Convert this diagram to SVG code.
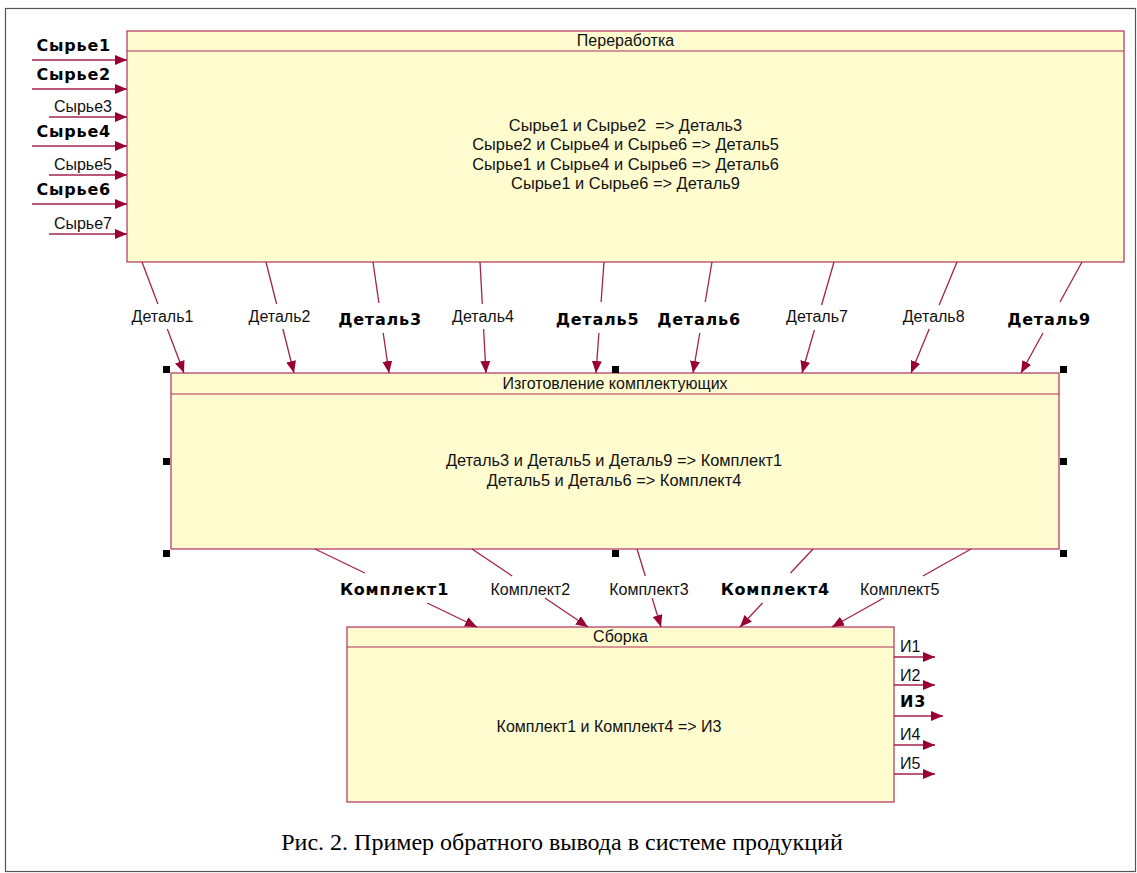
<svg xmlns="http://www.w3.org/2000/svg" width="1137" height="873" viewBox="0 0 1137 873">
<style>
.box{fill:#FFFCD0;stroke:#B0305A;stroke-width:1.2}
.sep{stroke:#B0305A;stroke-width:1.2}
.ln{stroke:#A3224F;stroke-width:1.3;fill:none}
.t{font-family:"Liberation Sans",Arial,sans-serif;font-size:16px;fill:#111}
.tb{font-family:"Liberation Sans",Arial,sans-serif;font-size:16.4px;fill:#111}
.b{font-family:"DejaVu Sans",sans-serif;font-weight:bold;font-size:16px;letter-spacing:0.8px;fill:#000}
.m{text-anchor:middle}
.e{text-anchor:end}
.h{fill:#000}
.cap{font-family:"Liberation Serif","Times New Roman",serif;font-size:24px;fill:#000}
</style>
<defs>
<marker id="ah" markerUnits="userSpaceOnUse" markerWidth="12" markerHeight="10" refX="12" refY="5" orient="auto">
<path d="M0,0 L12,5 L0,10 z" fill="#990033"/>
</marker>
</defs>
<rect x="0" y="0" width="1137" height="873" fill="#fff"/>
<rect x="5.5" y="8.5" width="1130" height="863" fill="none" stroke="#555" stroke-width="1.2"/>

<g id="node-pererabotka">
<rect class="box" x="127" y="31" width="997" height="231"/>
<line class="sep" x1="127" y1="51" x2="1124" y2="51"/>
<text class="t m" x="625.5" y="46">Переработка</text>
<text class="tb m" x="625.5" y="131" xml:space="preserve">Сырье1 и Сырье2  =&gt; Деталь3</text>
<text class="tb m" x="625.5" y="150">Сырье2 и Сырье4 и Сырье6 =&gt; Деталь5</text>
<text class="tb m" x="625.5" y="170">Сырье1 и Сырье4 и Сырье6 =&gt; Деталь6</text>
<text class="tb m" x="625.5" y="189">Сырье1 и Сырье6 =&gt; Деталь9</text>
</g>

<g id="node-izgotovlenie">
<rect class="box" x="171" y="373" width="888" height="176"/>
<line class="sep" x1="171" y1="394" x2="1059" y2="394"/>
<text class="t m" x="615" y="389">Изготовление комплектующих</text>
<text class="tb m" x="614" y="466">Деталь3 и Деталь5 и Деталь9 =&gt; Комплект1</text>
<text class="tb m" x="614" y="486">Деталь5 и Деталь6 =&gt; Комплект4</text>
<rect class="h" x="163" y="366" width="7" height="7"/>
<rect class="h" x="612" y="366" width="7" height="7"/>
<rect class="h" x="1060" y="366" width="7" height="7"/>
<rect class="h" x="163" y="458" width="7" height="7"/>
<rect class="h" x="1060" y="458" width="7" height="7"/>
<rect class="h" x="163" y="550" width="7" height="7"/>
<rect class="h" x="612" y="550" width="7" height="7"/>
<rect class="h" x="1060" y="550" width="7" height="7"/>
</g>

<g id="node-sborka">
<rect class="box" x="347" y="627" width="547" height="175"/>
<line class="sep" x1="347" y1="647" x2="894" y2="647"/>
<text class="t m" x="620.5" y="642">Сборка</text>
<text class="t m" x="609" y="732">Комплект1 и Комплект4 =&gt; И3</text>
</g>

<g id="connectors">
<!-- inputs -->
<line class="ln" x1="32" y1="60" x2="127" y2="60" marker-end="url(#ah)"/>
<line class="ln" x1="32" y1="89" x2="127" y2="89" marker-end="url(#ah)"/>
<line class="ln" x1="49" y1="117" x2="127" y2="117" marker-end="url(#ah)"/>
<line class="ln" x1="32" y1="146" x2="127" y2="146" marker-end="url(#ah)"/>
<line class="ln" x1="49" y1="175" x2="127" y2="175" marker-end="url(#ah)"/>
<line class="ln" x1="32" y1="204" x2="127" y2="204" marker-end="url(#ah)"/>
<line class="ln" x1="49" y1="234" x2="127" y2="234" marker-end="url(#ah)"/>
<text class="b e" x="111" y="51">Сырье1</text>
<text class="b e" x="111" y="80">Сырье2</text>
<text class="t e" x="112" y="112">Сырье3</text>
<text class="b e" x="111" y="137">Сырье4</text>
<text class="t e" x="112" y="170">Сырье5</text>
<text class="b e" x="111" y="195">Сырье6</text>
<text class="t e" x="112" y="229">Сырье7</text>

<!-- details -->
<line class="ln" x1="142" y1="262" x2="157.9" y2="304"/>
<line class="ln" x1="167.3" y1="329" x2="184" y2="373" marker-end="url(#ah)"/>
<text class="t m" x="162.5" y="322">Деталь1</text>
<line class="ln" x1="266" y1="262" x2="276.6" y2="304"/>
<line class="ln" x1="282.9" y1="329" x2="294" y2="373" marker-end="url(#ah)"/>
<text class="t m" x="279.5" y="322">Деталь2</text>
<line class="ln" x1="373" y1="262" x2="378.9" y2="303"/>
<line class="ln" x1="383.2" y1="333" x2="389" y2="373" marker-end="url(#ah)"/>
<text class="b m" x="380" y="325">Деталь3</text>
<line class="ln" x1="480" y1="262" x2="482.3" y2="304"/>
<line class="ln" x1="483.6" y1="329" x2="486" y2="373" marker-end="url(#ah)"/>
<text class="t m" x="483" y="322">Деталь4</text>
<line class="ln" x1="604" y1="262" x2="601.1" y2="302"/>
<line class="ln" x1="598.9" y1="333" x2="596" y2="373" marker-end="url(#ah)"/>
<text class="b m" x="597.5" y="325">Деталь5</text>
<line class="ln" x1="712" y1="262" x2="705.2" y2="302"/>
<line class="ln" x1="699.8" y1="333" x2="693" y2="373" marker-end="url(#ah)"/>
<text class="b m" x="699" y="325">Деталь6</text>
<line class="ln" x1="834" y1="262" x2="821.6" y2="305"/>
<line class="ln" x1="814.4" y1="330" x2="802" y2="373" marker-end="url(#ah)"/>
<text class="t m" x="817" y="322">Деталь7</text>
<line class="ln" x1="957" y1="262" x2="939.2" y2="305"/>
<line class="ln" x1="929.2" y1="329" x2="911" y2="373" marker-end="url(#ah)"/>
<text class="t m" x="933.7" y="322">Деталь8</text>
<line class="ln" x1="1082" y1="262" x2="1060" y2="302"/>
<line class="ln" x1="1043" y1="333" x2="1021" y2="373" marker-end="url(#ah)"/>
<text class="b m" x="1049" y="325">Деталь9</text>

<!-- komplekty -->
<line class="ln" x1="315" y1="549" x2="364.8" y2="573"/>
<line class="ln" x1="427.2" y1="603" x2="477" y2="627" marker-end="url(#ah)"/>
<text class="b m" x="394.5" y="595">Комплект1</text>
<line class="ln" x1="472" y1="549" x2="512.2" y2="576"/>
<line class="ln" x1="544.9" y1="598" x2="588" y2="627" marker-end="url(#ah)"/>
<text class="t m" x="530.3" y="595">Комплект2</text>
<line class="ln" x1="637" y1="549" x2="645.3" y2="576"/>
<line class="ln" x1="652.1" y1="598" x2="661" y2="627" marker-end="url(#ah)"/>
<text class="t m" x="649" y="595">Комплект3</text>
<line class="ln" x1="813" y1="549" x2="790.5" y2="573"/>
<line class="ln" x1="762.5" y1="603" x2="740" y2="627" marker-end="url(#ah)"/>
<text class="b m" x="775.3" y="595">Комплект4</text>
<line class="ln" x1="971" y1="549" x2="922.9" y2="576"/>
<line class="ln" x1="883.7" y1="598" x2="832" y2="627" marker-end="url(#ah)"/>
<text class="t m" x="899.7" y="595">Комплект5</text>

<!-- outputs -->
<line class="ln" x1="894" y1="657" x2="935" y2="657" marker-end="url(#ah)"/>
<line class="ln" x1="894" y1="685" x2="935" y2="685" marker-end="url(#ah)"/>
<line class="ln" x1="894" y1="716" x2="943" y2="716" marker-end="url(#ah)"/>
<line class="ln" x1="894" y1="745" x2="935" y2="745" marker-end="url(#ah)"/>
<line class="ln" x1="894" y1="774" x2="935" y2="774" marker-end="url(#ah)"/>
<text class="t" x="900" y="652">И1</text>
<text class="t" x="900" y="681">И2</text>
<text class="b" x="900" y="707">И3</text>
<text class="t" x="900" y="740">И4</text>
<text class="t" x="900" y="769">И5</text>
</g>

<text class="cap m" x="562" y="850">Рис. 2. Пример обратного вывода в системе продукций</text>
</svg>
